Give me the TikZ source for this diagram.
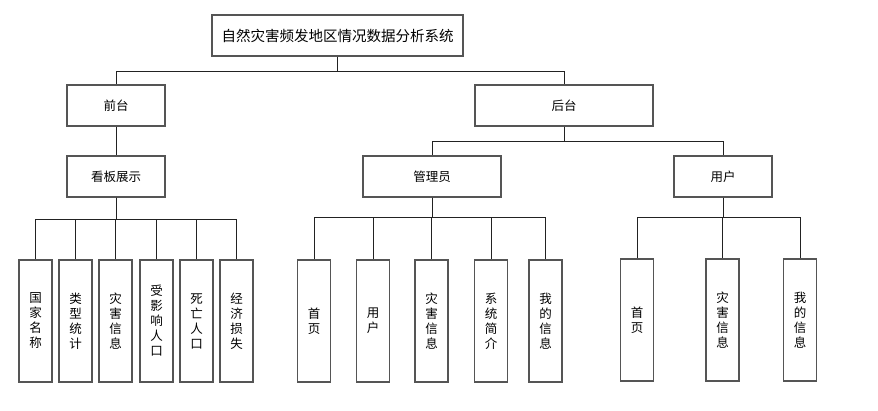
\documentclass[tikz,border=0pt]{standalone}
\usepackage{fontspec}
\newfontfamily\cjk{Noto Sans CJK SC}
\definecolor{boxline}{HTML}{555555}
\definecolor{conn}{HTML}{222222}
\begin{document}
\begin{tikzpicture}[x=1pt,y=-1pt,
  box/.style={draw=boxline,line width=1.1pt,fill=white,inner sep=0pt,
    font=\cjk\fontsize{12.5}{15}\selectfont,align=center},
  leaf/.style={box,minimum width=33pt,minimum height=122pt},
  wire/.style={draw=conn,line width=0.9pt}]
\useasboundingbox (0,0) rectangle (878,411);
% top
\node[box,minimum width=251pt,minimum height=41pt,font=\cjk\fontsize{14.5}{16}\selectfont] (t) at (337.5,35.5) {自然灾害频发地区情况数据分析系统};
\node[box,minimum width=98pt,minimum height=41pt] (q) at (116,105.5) {前台};
\node[box,minimum width=178pt,minimum height=41pt] (h) at (564,105.5) {后台};
\node[box,minimum width=98pt,minimum height=41pt] (kb) at (116,176.5) {看板展示};
\node[box,minimum width=138pt,minimum height=41pt] (gl) at (432,176.5) {管理员};
\node[box,minimum width=98pt,minimum height=41pt] (yh) at (723,176.5) {用户};
% leaves front
\node[leaf] (a1) at (35.5,321) {国\\家\\名\\称};
\node[leaf] (a2) at (75.5,321) {类\\型\\统\\计};
\node[leaf] (a3) at (115.5,321) {灾\\害\\信\\息};
\node[leaf] (a4) at (156.5,321) {受\\影\\响\\人\\口};
\node[leaf] (a5) at (196.5,321) {死\\亡\\人\\口};
\node[leaf] (a6) at (236.5,321) {经\\济\\损\\失};
% admin leaves
\node[leaf] (b1) at (314,321) {首\\页};
\node[leaf] (b2) at (373,321) {用\\户};
\node[leaf] (b3) at (431.5,321) {灾\\害\\信\\息};
\node[leaf] (b4) at (491,321) {系\\统\\简\\介};
\node[leaf] (b5) at (545.5,321) {我\\的\\信\\息};
% user leaves
\node[leaf] (c1) at (637,320) {首\\页};
\node[leaf] (c2) at (722.5,320) {灾\\害\\信\\息};
\node[leaf] (c3) at (800,320) {我\\的\\信\\息};
% connectors
\draw[wire] (t.south) -- (t.south |- 0,71) -| (q.north);
\draw[wire] (t.south |- 0,71) -| (h.north);
\draw[wire] (q.south) -- (kb.north);
\draw[wire] (h.south) -- (h.south |- 0,141) -| (gl.north);
\draw[wire] (h.south |- 0,141) -| (yh.north);
\foreach \n in {a1,a2,a3,a4,a5,a6}
  \draw[wire] (kb.south) -- (kb.south |- 0,219) -| (\n.north);
\foreach \n in {b1,b2,b3,b4,b5}
  \draw[wire] (gl.south) -- (gl.south |- 0,217) -| (\n.north);
\foreach \n in {c1,c2,c3}
  \draw[wire] (yh.south) -- (yh.south |- 0,217) -| (\n.north);
\end{tikzpicture}
\end{document}
